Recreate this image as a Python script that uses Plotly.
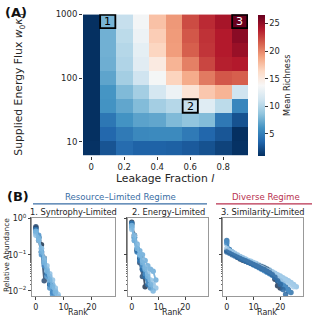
import numpy as np
import plotly.graph_objects as go

# ---------------- data ----------------
leakage = [0.0, 0.1, 0.2, 0.3, 0.4, 0.5, 0.6, 0.7, 0.8, 0.9]
energy_flux = [7.9, 13.2, 22.0, 36.6, 60.8, 101, 168, 280, 466, 774]
# mean richness, rows = energy flux (low -> high), cols = leakage
richness = [
    [1.1, 2.7, 3.9, 3.4, 3.4, 3.3, 3.0, 2.6, 1.9, 1.1],
    [1.0, 3.7, 4.7, 5.5, 5.6, 5.6, 4.7, 3.6, 2.8, 1.0],
    [1.0, 4.5, 6.1, 6.9, 7.1, 8.1, 8.7, 8.2, 4.6, 2.6],
    [1.0, 6.1, 7.1, 8.2, 9.4, 10.1, 10.8, 12.2, 10.4, 5.4],
    [1.0, 6.2, 8.1, 9.4, 11.5, 13.1, 15.6, 17.3, 18.2, 11.2],
    [1.0, 7.0, 9.4, 11.2, 13.6, 16.7, 18.6, 20.5, 21.8, 21.5],
    [1.0, 7.5, 9.9, 12.3, 15.0, 18.2, 20.3, 22.4, 23.8, 24.0],
    [1.0, 7.6, 10.1, 12.6, 16.6, 19.2, 21.5, 23.0, 24.0, 24.9],
    [1.0, 7.6, 10.4, 13.1, 17.0, 19.3, 21.8, 23.1, 24.0, 25.4],
    [1.0, 7.8, 10.8, 13.5, 17.6, 19.4, 22.2, 23.4, 24.4, 26.5],
]
richness_ticks = [5, 10, 15, 20, 25]
flux_ticks = [10, 100, 1000]
leak_ticks = [0, 0.2, 0.4, 0.6, 0.8]
# marked regimes: (label, leakage, energy flux)
regimes = [("1", 0.1, 774), ("2", 0.6, 36.6), ("3", 0.9, 774)]

panel_titles = ["1. Syntrophy-Limited", "2. Energy-Limited", "3. Similarity-Limited"]
group_titles = ["Resource\u2013Limited Regime", "Diverse Regime"]

# rank-abundance curves (relative abundance by rank)
syntrophy = [
    [0.55, 0.30, 0.19, 0.08, 0.03, 0.015],
    [0.60, 0.25, 0.12, 0.019],
    [0.50, 0.30, 0.12, 0.06, 0.03, 0.015, 0.009],
    [0.45, 0.35, 0.10, 0.05, 0.025, 0.012, 0.008, 0.006],
    [0.40, 0.30, 0.15, 0.07, 0.04, 0.025, 0.015, 0.010, 0.007],
    [0.35, 0.25, 0.15, 0.08, 0.05, 0.03, 0.02, 0.012, 0.008, 0.006],
    [0.45, 0.28, 0.12, 0.06, 0.035, 0.02, 0.013, 0.009, 0.005],
]
energy = [
    [0.80, 0.35, 0.14, 0.08, 0.04, 0.013],
    [0.70, 0.30, 0.13, 0.06, 0.025],
    [0.75, 0.25, 0.12, 0.07, 0.04, 0.025, 0.015],
    [0.60, 0.30, 0.15, 0.09, 0.05, 0.03, 0.02, 0.012],
    [0.55, 0.30, 0.20, 0.13, 0.10, 0.07, 0.05, 0.04, 0.035, 0.02],
    [0.50, 0.35, 0.18, 0.10, 0.07, 0.045, 0.03, 0.02, 0.015, 0.012],
    [0.65, 0.25, 0.15, 0.10, 0.06, 0.04, 0.025, 0.015, 0.010],
]
similarity = [
    [0.20, 0.12, 0.11, 0.10, 0.092, 0.085, 0.080, 0.075, 0.070, 0.066, 0.061, 0.057, 0.052,
     0.048, 0.045, 0.041, 0.038, 0.034, 0.031, 0.028, 0.026, 0.023, 0.021, 0.019, 0.017, 0.015, 0.013],
    [0.25, 0.14, 0.12, 0.105, 0.095, 0.088, 0.080, 0.072, 0.066, 0.060, 0.055, 0.050, 0.046,
     0.042, 0.038, 0.034, 0.031, 0.028, 0.025, 0.022, 0.019, 0.016, 0.013, 0.011, 0.009],
    [0.13, 0.12, 0.11, 0.10, 0.085, 0.077, 0.071, 0.066, 0.062, 0.058, 0.055, 0.052, 0.050,
     0.047, 0.043, 0.040, 0.035, 0.030, 0.021, 0.014, 0.012],
    [0.22, 0.13, 0.115, 0.10, 0.09, 0.082, 0.075, 0.068, 0.062, 0.057, 0.052, 0.048, 0.044,
     0.040, 0.036, 0.033, 0.030, 0.027, 0.024, 0.021, 0.018, 0.015, 0.012, 0.010],
    [0.15, 0.13, 0.12, 0.11, 0.10, 0.09, 0.083, 0.076, 0.069, 0.063, 0.058, 0.053, 0.049,
     0.045, 0.041, 0.038, 0.035, 0.032, 0.029, 0.026, 0.023, 0.021, 0.019, 0.017, 0.015, 0.013],
    [0.12, 0.11, 0.10, 0.092, 0.085, 0.079, 0.073, 0.068, 0.063, 0.058, 0.054, 0.050, 0.046,
     0.042, 0.039, 0.035, 0.032, 0.028, 0.024, 0.019, 0.015, 0.011, 0.008],
]

# ---------------- styles ----------------
FONT = "DejaVu Sans"
W, H = 314, 317
rdbu_r = ["#053061", "#2166ac", "#4393c3", "#92c5de", "#d1e5f0", "#f7f7f7",
          "#fddbc7", "#f4a582", "#d6604d", "#b2182b", "#67001f"]
colorscale = [[i / 10, c] for i, c in enumerate(rdbu_r)]
line_colors = ["#1f3550", "#2a4d75", "#2f78b5", "#4a90c8", "#6aaad8", "#8fc0e3", "#7ab5de"]
sim_colors = ["#8fc0e3", "#2f72ab", "#243c5a", "#4a8dc4", "#a6cdea", "#2e6aa3"]
blue_hdr = "#3a6ea5"
red_hdr = "#b8314f"
TXT = "#262626"


def px_x(p):
    return p / W


def px_y(p):
    return 1 - p / H


fig = go.Figure()

ylog = np.log10(energy_flux)
fig.add_trace(go.Heatmap(
    x=leakage, y=ylog, z=richness, colorscale=colorscale, zmin=1.0, zmax=26.6,
    xaxis="x", yaxis="y",
    colorbar=dict(
        x=px_x(258), xanchor="left", xpad=0, ypad=0,
        y=px_y(81.5), yanchor="middle", len=143 / H, lenmode="fraction",
        thickness=7, outlinewidth=0, tickvals=richness_ticks, ticks="outside",
        ticklen=3, tickwidth=1, tickcolor="#333", tickfont=dict(family=FONT, size=8.3, color=TXT),
        title=dict(text="Mean Richness", side="right", font=dict(family=FONT, size=8.2, color=TXT)),
    ),
))

dx = leakage[1] - leakage[0]
dy = ylog[1] - ylog[0]
for lab, lx, fy in regimes:
    cy = np.log10(fy)
    fig.add_shape(type="rect", xref="x", yref="y", x0=lx - dx / 2 + 0.004, x1=lx + dx / 2 - 0.004,
                  y0=cy - dy / 2 + 0.006, y1=cy + dy / 2 - 0.006, line=dict(color="black", width=1.8))
    fig.add_annotation(x=lx, y=cy, xref="x", yref="y", text=lab, showarrow=False,
                       font=dict(family=FONT, size=11, color="white" if lab == "3" else "black"))

# panel B traces
panels = [syntrophy, energy, similarity]
for k, series in enumerate(panels):
    cols = sim_colors if k == 2 else line_colors
    for j, vals in enumerate(series):
        fig.add_trace(go.Scatter(
            x=list(range(len(vals))), y=vals, mode="lines+markers",
            line=dict(color=cols[j % len(cols)], width=1.8),
            marker=dict(color=cols[j % len(cols)], size=5.5),
            opacity=0.85, showlegend=False,
            xaxis=f"x{k + 2}", yaxis=f"y{k + 2}",
        ))

tickfont = dict(family=FONT, size=8.5, color=TXT)
small_tick = dict(family=FONT, size=8, color=TXT)
layout = dict(
    width=W, height=H, margin=dict(l=0, r=0, t=0, b=0),
    paper_bgcolor="white", plot_bgcolor="white", showlegend=False,
    font=dict(family=FONT, color=TXT),
    xaxis=dict(domain=[px_x(83), px_x(248)], range=[-0.05, 0.95], tickvals=leak_ticks,
               ticktext=["0", "0.2", "0.4", "0.6", "0.8"],
               ticks="outside", ticklen=3, tickcolor="#333", tickfont=tickfont,
               showline=False, showgrid=False, zeroline=False, anchor="y"),
    yaxis=dict(domain=[px_y(153), px_y(9.5)], range=[ylog[0] - dy / 2, ylog[-1] + dy / 2],
               tickvals=list(np.log10(flux_ticks)), ticktext=[str(t) for t in flux_ticks],
               ticks="outside", ticklen=3, tickcolor="#333", tickfont=tickfont,
               showline=False, showgrid=False, zeroline=False, anchor="x"),
)
b_domains = [(32, 115), (128, 208), (223, 303)]
for k, (a, b) in enumerate(b_domains):
    n = k + 2
    layout[f"xaxis{n}"] = dict(domain=[px_x(a), px_x(b)], range=[-1.4, 28.5], tickvals=[0, 10, 20],
                               ticks="outside", ticklen=3, tickcolor="#444", tickfont=small_tick,
                               showline=True, mirror=True, linecolor="#999", linewidth=1,
                               showgrid=False, zeroline=False, anchor=f"y{n}")
    layout[f"yaxis{n}"] = dict(domain=[px_y(296), px_y(216)], type="log", range=[-2.15, 0.03],
                               tickvals=[1, 0.1, 0.01],
                               ticktext=["10<sup>0</sup>", "10<sup>\u22121</sup>", "10<sup>\u22122</sup>"],
                               showticklabels=(k == 0), ticks="outside", ticklen=3, tickcolor="#444",
                               tickfont=small_tick,
                               minor=dict(ticks="outside", ticklen=1.5, tickcolor="#666", showgrid=False),
                               showline=True, mirror=True, linecolor="#999", linewidth=1,
                               showgrid=False, zeroline=False, anchor=f"x{n}")
fig.update_layout(**layout)

ann = []
ann.append(dict(text="<b>(A)</b>", x=px_x(3), y=px_y(8), xanchor="left", yanchor="middle",
                font=dict(family=FONT, size=13, color="#111")))
ann.append(dict(text="<b>(B)</b>", x=px_x(5), y=px_y(195), xanchor="left", yanchor="middle",
                font=dict(family=FONT, size=13, color="#111")))
ann.append(dict(text="Leakage Fraction <i>l</i>", x=px_x(165), y=px_y(176), xanchor="center", yanchor="middle",
                font=dict(family=FONT, size=10.8, color=TXT)))
ann.append(dict(text="Supplied Energy Flux <i>w</i><sub>0</sub><i>\u03ba</i><sub>0</sub>", x=px_x(19), y=px_y(81),
                xanchor="center", yanchor="middle", textangle=-90,
                font=dict(family=FONT, size=10.8, color=TXT)))
ann.append(dict(text=group_titles[0], x=px_x(120), y=px_y(195), xanchor="center", yanchor="middle",
                font=dict(family=FONT, size=8.6, color=blue_hdr)))
ann.append(dict(text=group_titles[1], x=px_x(266), y=px_y(195), xanchor="center", yanchor="middle",
                font=dict(family=FONT, size=8.6, color=red_hdr)))
for k, (a, b) in enumerate(b_domains):
    ann.append(dict(text=panel_titles[k], x=px_x((a + b) / 2), y=px_y(210), xanchor="center", yanchor="middle",
                    font=dict(family=FONT, size=8.3, color=TXT)))
    ann.append(dict(text="Rank", x=px_x((a + b) / 2 + 4), y=px_y(312), xanchor="center", yanchor="middle",
                    font=dict(family=FONT, size=8, color=TXT)))
ann.append(dict(text="Relative Abundance", x=px_x(7), y=px_y(254), xanchor="center", yanchor="middle",
                textangle=-90, font=dict(family=FONT, size=7.4, color=TXT)))
for a in ann:
    a.update(xref="paper", yref="paper", showarrow=False)
    fig.add_annotation(**a)

fig.add_shape(type="line", xref="paper", yref="paper", x0=px_x(33), x1=px_x(207), y0=px_y(202), y1=px_y(202),
              line=dict(color=blue_hdr, width=1.3))
fig.add_shape(type="line", xref="paper", yref="paper", x0=px_x(216), x1=px_x(312), y0=px_y(202), y1=px_y(202),
              line=dict(color=red_hdr, width=1.3))

fig.write_html("out.html", config={"displayModeBar": False},
               post_script="document.body.style.margin='0px';")
